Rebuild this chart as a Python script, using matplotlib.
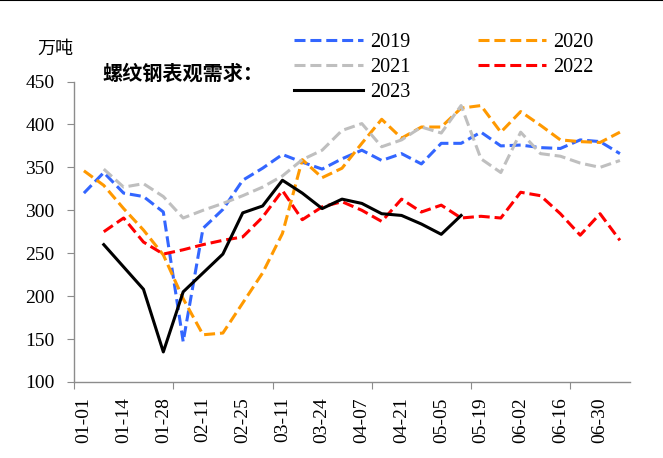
import matplotlib
matplotlib.use('Agg')
import matplotlib.pyplot as plt
from matplotlib.lines import Line2D

# 字体: 数字用 Times 风格, 中文用 Noto Sans CJK
plt.rcParams['font.family'] = ['Liberation Serif', 'Noto Sans CJK SC']

# 周度类目 (28 周), 每两周标一次
tick_labels = ['01-01', '01-14', '01-28', '02-11', '02-25', '03-11', '03-24',
               '04-07', '04-21', '05-05', '05-19', '06-02', '06-16', '06-30']

y2019 = [320, 344, 320, 316, 298, 147, 279, 301, 335, 349, 365, 356, 348, 360,
         370, 358, 366, 354, 378, 378, 391, 375, 376, 373, 372, 382, 380, 366]
y2020 = [346, 329, 302, 277, 248, 197, 155, 157, 192, 227, 273, 359, 338, 349,
         378, 406, 384, 397, 397, 419, 422, 391, 415, 399, 382, 380, 379, 391]
y2021 = [None, 348, 327, 331, 316, 291, 300, 308, 317, 327, 340, 359, 370, 393,
         401, 374, 382, 397, 390, 422, 360, 344, 391, 366, 363, 355, 350, 358]
y2022 = [None, 275, 291, 263, 249, 254, 260, 265, 269, 292, 323, 289, 304, 310,
         300, 287, 313, 298, 306, 291, 293, 291, 321, 317, 296, 271, 296, 265]
y2023 = [None, 260, 234, 208, 135, 205, 227, 249, 297, 305, 335, 320, 302, 313,
         308, 296, 294, 284, 272, 294]

x = list(range(28))
x23 = list(range(len(y2023)))


def clean(vals):
    return [v if v is not None else float('nan') for v in vals]


fig = plt.figure(figsize=(6.63, 4.58), dpi=100)
ax = fig.add_axes([0.1116, 0.166, 0.8384, 0.656])

dash = (0, (3.6, 1.6))
h19, = ax.plot(x, clean(y2019), color='#3366ff', lw=2.2, ls=dash, label='2019')
h20, = ax.plot(x, clean(y2020), color='#ff9900', lw=2.2, ls=dash, label='2020')
h21, = ax.plot(x, clean(y2021), color='#bfbfbf', lw=2.2, ls=dash, label='2021')
h22, = ax.plot(x, clean(y2022), color='#ff0000', lw=2.2, ls=dash, label='2022')
h23, = ax.plot(x23, clean(y2023), color='black', lw=2.2, label='2023')

ax.set_xlim(-0.5, 27.5)
ax.set_ylim(100, 450)
ax.set_yticks(range(100, 451, 50))

# 主刻度线每5周, 标签每2周
ax.set_xticks([-0.5, 4.5, 9.5, 14.5, 19.5, 24.5])
ax.set_xticklabels([])
ax.set_xticks(list(range(0, 28, 2)), minor=True)
ax.set_xticklabels(tick_labels, minor=True, rotation=90, fontsize=14)
ax.tick_params(axis='x', which='minor', length=0, pad=11)
ax.tick_params(axis='x', which='major', length=5, color='#8c8c8c', direction='out')
ax.tick_params(axis='y', length=5, color='#8c8c8c', pad=9, labelsize=14)

for s in ['top', 'right']:
    ax.spines[s].set_visible(False)
for s in ['left', 'bottom']:
    ax.spines[s].set_color('#8c8c8c')
    ax.spines[s].set_linewidth(1.0)

leg = fig.legend(handles=[h19, h21, h23, h20, h22], ncol=2, loc='upper left',
                 bbox_to_anchor=(0.432, 0.946), frameon=False, fontsize=14.5,
                 handlelength=3.4, handletextpad=0.35, columnspacing=3.35,
                 labelspacing=0.3, borderaxespad=0)

fig.text(0.154, 1 - 73 / 458, '螺纹钢表观需求：', fontsize=14.5, fontweight='bold',
         va='center', ha='left', family=['Noto Sans CJK SC'])
fig.text(0.057, 1 - 49 / 458, '万吨', fontsize=13, va='center', ha='left',
         family=['Noto Sans CJK SC'])

fig.add_artist(Line2D([0, 1], [0.999, 0.999], color='black', lw=1.5,
                      transform=fig.transFigure))

fig.savefig('out.png', dpi=100)
